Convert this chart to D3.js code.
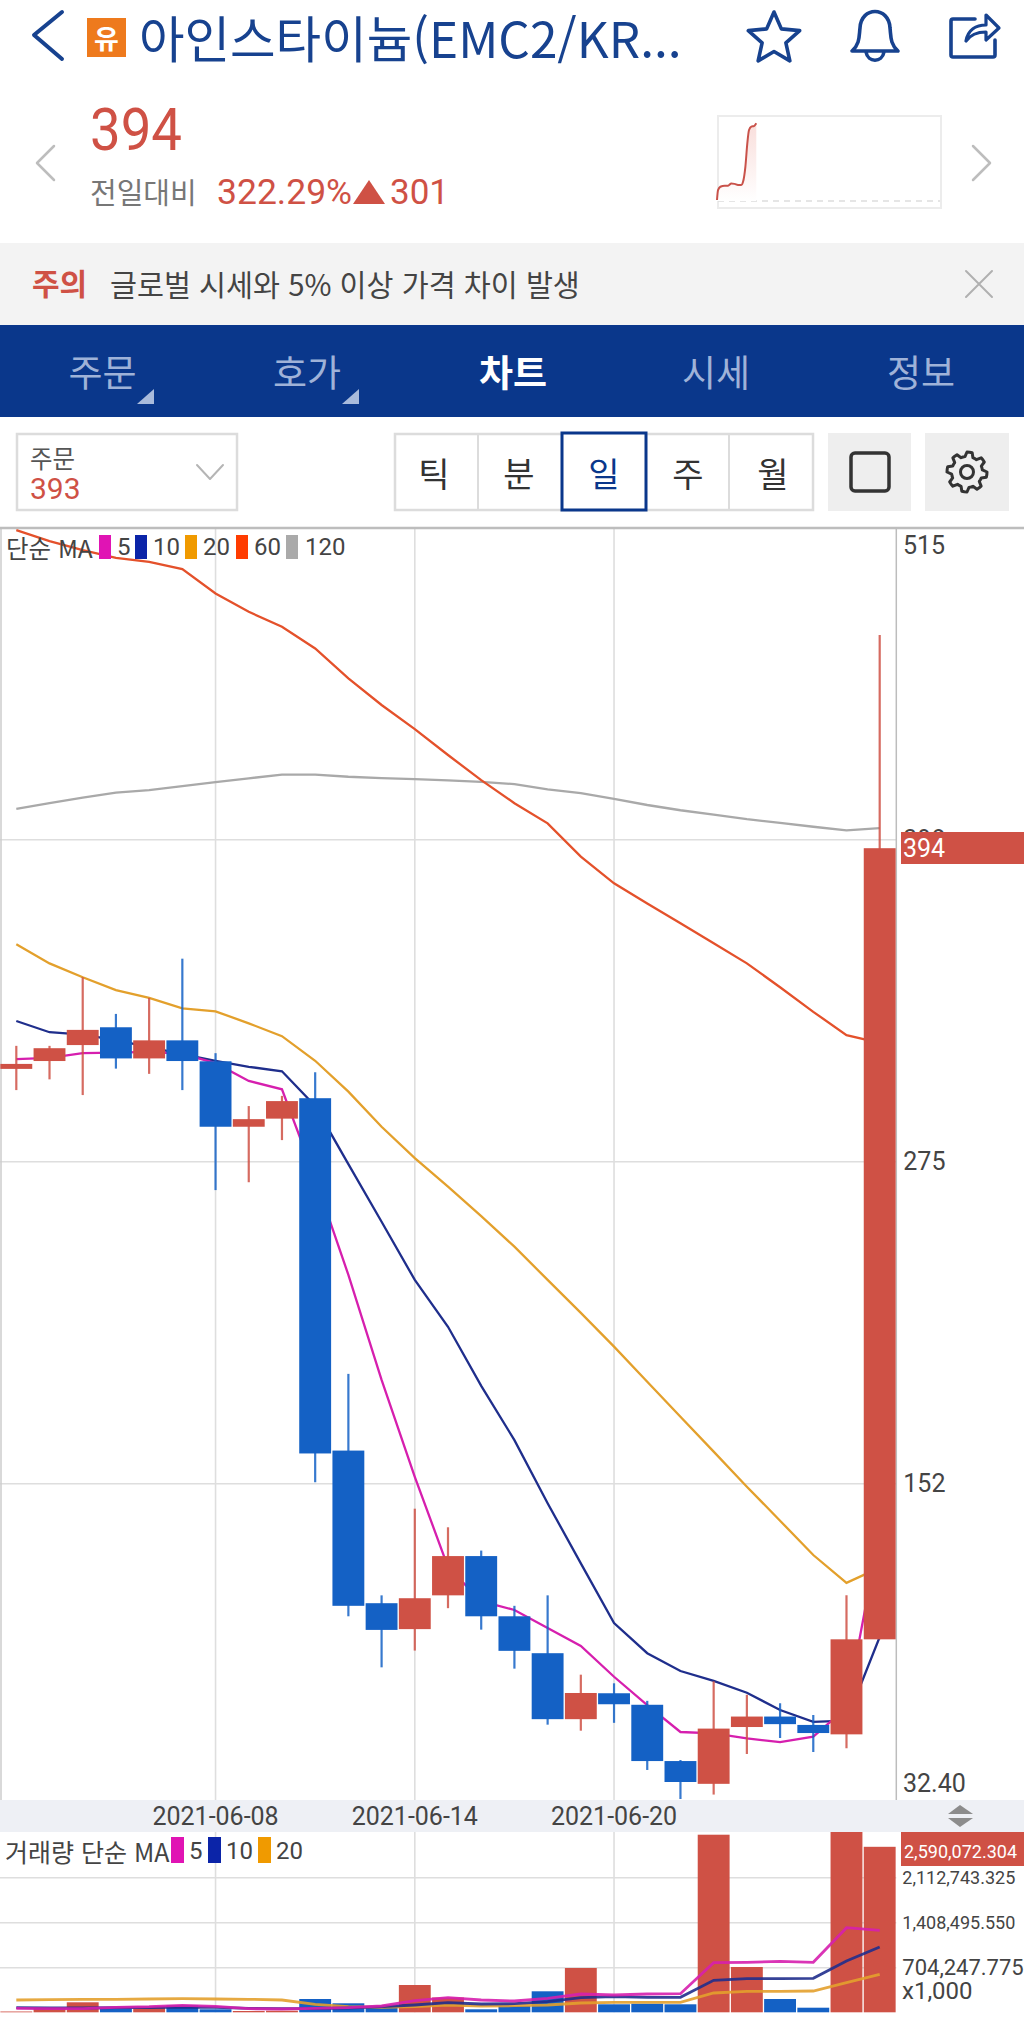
<!DOCTYPE html>
<html lang="ko">
<head>
<meta charset="utf-8">
<script src="https://cdn.jsdelivr.net/npm/d3@7/dist/d3.min.js"></script>
<style>
html,body{margin:0;padding:0;background:#fff;}
svg{display:block;}
text{font-family:Roboto,"Noto Sans CJK KR",sans-serif;}
.kr{font-family:"Noto Sans CJK KR","Noto Sans",sans-serif;}
.grid line{stroke:#dedede;stroke-width:1.6;}
.grid path{display:none;}
</style>
</head>
<body>
<div id="chart"></div>
<script>
// ---------- data ----------
const dates = ["2021-06-02","2021-06-03","2021-06-04","2021-06-05","2021-06-06","2021-06-07","2021-06-08","2021-06-09","2021-06-10","2021-06-11","2021-06-12","2021-06-13","2021-06-14","2021-06-15","2021-06-16","2021-06-17","2021-06-18","2021-06-19","2021-06-20","2021-06-21","2021-06-22","2021-06-23","2021-06-24","2021-06-25","2021-06-26","2021-06-27","2021-06-28"];
const opens  = [310.3,313.3,319.4,326.2,314.3,321.2,313.2,288.2,291.3,299.1,164.5,106.2,96.3,109.2,124.2,101.2,87.1,61.9,71.8,67.4,45.9,37.2,58.9,62.9,59.7,56.1,92.4];
const closes = [312.2,318.2,325.2,314.3,321.2,313.3,288.2,291.1,298.0,163.4,105.2,96.0,108.1,124.2,101.2,88.0,61.9,71.9,67.6,45.9,37.9,58.3,62.9,60.0,56.6,92.4,394.6];
const highs  = [319.1,319.1,345.3,331.3,337.4,352.4,316.3,296.1,300.0,309.0,193.8,109.2,142.3,135.2,126.3,105.2,109.2,78.9,75.6,68.9,46.3,76.4,71.2,68.0,63.5,109.2,476.0];
const lows   = [302.2,306.3,300.3,310.4,308.4,302.2,264.0,267.0,283.1,152.4,101.2,81.7,88.1,104.3,96.1,81.2,59.8,57.5,60.5,42.5,31.4,33.1,48.6,54.7,49.4,50.8,92.4];
const ma5    = [314.0,314.5,316.3,316.5,316.8,316.0,312.5,305.7,302.5,268.6,231.6,191.5,154.5,120.0,107.0,103.6,96.7,89.9,78.1,67.3,57.0,56.5,54.6,53.1,55.2,66.2,133.4];
const ma10   = [328.6,324.3,323.4,321.3,318.6,315.9,313.4,311.1,309.4,296.1,273.9,251.9,229.7,211.8,189.2,168.5,144.4,121.4,98.6,87.1,80.3,76.5,72.0,65.4,60.9,61.3,93.3];
const ma20   = [357.9,350.6,345.3,340.4,337.4,333.4,332.3,327.7,322.8,313.4,301.6,288.2,276.2,265.3,254.1,242.4,229.7,217.1,204.2,190.8,177.4,164.1,150.7,137.7,124.6,114.0,119.8];
const ma60   = [516.1,511.9,508.5,505.5,504.0,501.2,491.9,484.9,479.2,470.9,459.5,449.3,440.1,430.2,420.6,411.8,404.1,391.4,381.2,373.5,365.9,358.3,350.6,341.5,332.1,323.2,320.2];
const ma120  = [409.6,411.8,413.9,415.8,416.8,418.3,419.8,421.3,422.7,422.7,421.9,421.4,421.0,420.5,419.9,419.1,417.1,415.6,413.4,411.1,409.1,407.4,405.7,404.3,402.8,401.4,402.3];
const volumes = [12500,67300,156500,62600,78250,109550,47000,20300,25000,208100,140850,87600,427200,231600,47000,98600,328650,693300,125200,134600,125200,2779400,708900,208100,72000,2861000,2590072];
const volMa5  = [62600,56300,56300,78250,87600,109550,93900,56300,51600,62600,72000,98600,181500,228500,192500,176800,219100,286400,270700,286400,291100,776200,782500,798100,782500,1324000,1283300];
const volMa10 = [72000,67300,67300,72000,72000,83000,78250,62600,56300,56300,67300,87600,114200,150200,129900,134600,165900,228500,244100,234800,234800,500800,525800,525800,532100,802800,1021900];
const volMa20 = [192500,197200,203500,203500,208100,212800,208100,203500,192500,125200,87600,78250,87600,114200,98600,103300,114200,145500,156500,156500,156500,302000,328650,328650,333300,463200,594700];
const priceTicks = [398,275,152];
const priceEdgeLabels = ["515","32.40"];
const dateTicks = ["2021-06-08","2021-06-14","2021-06-20"];
const volTicks = [704247.775,1408495.55,2112743.325];
const volTickLabels = ["704,247.775","1,408,495.550","2,112,743.325"];
const sparkHours = [0,.11,.36,.82,1.18,1.54,1.89,2.25,2.6,2.79,3.04,3.25,3.43,3.68,3.96,4.21];
const sparkPrices = [97,135,148,152,152,161,159,155,155,167,225,316,367,380,382,393];
const navLabels = ["주문","호가","차트","시세","정보"];
const periodLabels = ["틱","분","일","주","월"];
const maLegend = [["5","#e014b4"],["10","#0b24a8"],["20","#f09a00"],["60","#ff3c00"],["120","#aaaaaa"]];

// ---------- colours ----------
const RED="#cf5145", BLUE="#1461c5", NAVY="#17428f", BAR="#0a378b", TXT="#444";
const C5="#d61fae", C10="#1f2e8c", C20="#e3a02c", C60="#e4512b", C120="#a9a9a9";

const svg = d3.select("#chart").append("svg").attr("width",1024).attr("height",2017).attr("viewBox","0 0 1024 2017");
const T=(x,y,s,size,fill,opt={})=>svg.append("text").attr("x",x).attr("y",y).text(s)
  .attr("font-size",size).attr("fill",fill).attr("dominant-baseline","central")
  .attr("text-anchor",opt.anchor||"start").attr("font-weight",opt.weight||400)
  .attr("class",opt.kr?"kr":null);
const R=(x,y,w,h,fill,stroke,sw)=>svg.append("rect").attr("x",x).attr("y",y).attr("width",w).attr("height",h)
  .attr("fill",fill||"none").attr("stroke",stroke||"none").attr("stroke-width",sw||0);
const P=(d,fill,stroke,sw)=>svg.append("path").attr("d",d).attr("fill",fill||"none").attr("stroke",stroke||"none")
  .attr("stroke-width",sw||0).attr("stroke-linejoin","round").attr("stroke-linecap","round");

// ---------- header ----------
P("M62,12 L34,35 L62,59",null,NAVY,4);
R(87,18,39,39,"#ee7a1d");
T(106.5,37,"유",27,"#fff",{anchor:"middle",kr:true,weight:700});
T(139,36,"아인스타이늄(EMC2/KR...",49.5,NAVY,{kr:true});
const star=d3.lineRadial().curve(d3.curveLinearClosed)(d3.range(10).map(i=>[i*Math.PI/5,i%2?12.5:27]));
P(star,null,NAVY,3.6).attr("transform","translate(774,39)");
P("M852,51 C860,44 859,36 860,28 C861,6 889,6 890,28 C891,36 890,44 898,51 Z M866,52 C868,63 882,63 884,52",null,NAVY,3.6);
P("M975,19 L953,19 Q951,19 951,21 L951,55 Q951,57 953,57 L993,57 Q995,57 995,55 L995,40",null,NAVY,3.6);
P("M966,41 C968,30 976,25 986,25 L986,15 L999,28 L986,40 L986,32 C978,32 971,34 966,41 Z",null,NAVY,3.2);

// ---------- price summary ----------
T(90,129,"394",60,RED).attr("textLength",92).attr("lengthAdjust","spacingAndGlyphs");
P("M54,146 L37,163 L54,180",null,"#bdbdbd",2.5);
P("M973,146 L990,163 L973,180",null,"#bdbdbd",2.5);
T(90,191,"전일대비",29,"#777",{kr:true});
T(217,192,"322.29%",35.5,RED);
P("M369,180 L385,204 L353,204 Z",RED);
T(390,192,"301",35,RED);

// sparkline
R(718,116,223,92,"#fff","#ececec",2);
const sx=d3.scaleLinear().domain([0,24]).range([717,941]);
const sy=d3.scaleLinear().domain([93,394]).range([201,123]);
svg.append("line").attr("x1",718).attr("x2",940).attr("y1",201).attr("y2",201).attr("stroke","#ddd").attr("stroke-width",1.5).attr("stroke-dasharray","6 5");
const grad=svg.append("defs").append("linearGradient").attr("id","sg").attr("x1",0).attr("x2",0).attr("y1",0).attr("y2",1);
grad.append("stop").attr("offset",0).attr("stop-color","#f9dedb");
grad.append("stop").attr("offset",1).attr("stop-color","#fff");
const sparkPts=sparkHours.map((h,i)=>[h,sparkPrices[i]]);
svg.append("path").attr("fill","url(#sg)").attr("d",d3.area().x(d=>sx(d[0])).y0(sy(93)).y1(d=>sy(d[1]))(sparkPts));
svg.append("path").attr("fill","none").attr("stroke","#c9524a").attr("stroke-width",2).attr("d",d3.line().x(d=>sx(d[0])).y(d=>sy(d[1])).curve(d3.curveMonotoneX)(sparkPts));

// ---------- warning ----------
R(0,243,1024,82,"#f3f3f3");
T(32,282,"주의",30,RED,{kr:true,weight:700});
T(110,283,"글로벌 시세와 5% 이상 가격 차이 발생",29.3,"#444",{kr:true});
P("M966,271 L992,297 M992,271 L966,297",null,"#b0b0b0",2);

// ---------- nav ----------
R(0,325,1024,92,BAR);
const navX=[102.5,307,513,716,921];
navLabels.forEach((s,i)=>T(navX[i],371,s,37,i===2?"#fff":"#9fb2d8",{anchor:"middle",kr:true,weight:i===2?700:400}));
P("M154,389 L154,404 L137,404 Z","#a9bbdc");
P("M359,389 L359,404 L342,404 Z","#a9bbdc");

// ---------- toolbar ----------
R(17,434,220,76,"#fff","#dcdcdc",2.5);
T(30,457,"주문",24.5,"#555",{kr:true});
T(30,488,"393",30,RED);
P("M197,465 L210,479 L223,465",null,"#b5b5b5",2);
R(395,434,418,76,"#fff","#dcdcdc",2.5);
[478,729].forEach(x=>P(`M${x},434 L${x},510`,null,"#dcdcdc",2));
R(562,433,84,77,"#fff",BAR,3);
const perX=[434,519,604,688,773];
periodLabels.forEach((s,i)=>T(perX[i],472,s,34,i===2?BAR:"#333",{anchor:"middle",kr:true}));
R(828,433,83,78,"#eeeeee");
svg.append("rect").attr("x",851).attr("y",453).attr("width",38).attr("height",38).attr("rx",4).attr("fill","none").attr("stroke","#333").attr("stroke-width",3.5);
R(925,433,84,78,"#eeeeee");
const gear=d3.lineRadial().curve(d3.curveLinearClosed)(d3.range(48).map(i=>[i*Math.PI/24,(i%6<3)?20:15.5]));
P(gear,null,"#333",3).attr("transform","translate(967,472)");
svg.append("circle").attr("cx",967).attr("cy",472).attr("r",6.5).attr("fill","none").attr("stroke","#333").attr("stroke-width",3);

// ---------- scales ----------
const PLOT_R=896.3, P_TOP=528, P_BOT=1800, V_TOP=1832, V_BOT=2012.3;
const x=d3.scaleBand().domain(dates).range([-0.3,PLOT_R]).paddingInner(.04).paddingOuter(.02);
const cx=d=>x(d)+x.bandwidth()/2;
const y=d3.scaleLinear().domain([152,275]).range([1483.3,1161.3]);
const v=d3.scaleLinear().domain([0,704247.775]).range([V_BOT,V_BOT-45]);

const defs=svg.append("defs");
defs.append("clipPath").attr("id","cp").append("rect").attr("x",0).attr("y",P_TOP).attr("width",PLOT_R).attr("height",P_BOT-P_TOP);
defs.append("clipPath").attr("id","cv").append("rect").attr("x",0).attr("y",V_TOP).attr("width",PLOT_R).attr("height",V_BOT-V_TOP+1);

// ---------- vertical grids ----------
svg.append("g").attr("class","grid").attr("transform",`translate(0,${P_BOT})`)
  .call(d3.axisBottom(x).tickValues(dateTicks).tickSize(-(P_BOT-P_TOP)).tickFormat(""));
svg.append("g").attr("class","grid").attr("transform",`translate(0,${V_BOT})`)
  .call(d3.axisBottom(x).tickValues(dateTicks).tickSize(-(V_BOT-V_TOP)).tickFormat(""));

// ---------- price grid + axis ----------
const gy=svg.append("g").attr("class","grid").attr("transform",`translate(${PLOT_R},0)`)
  .call(d3.axisRight(y).tickValues(priceTicks).tickSize(0).tickPadding(7));
gy.selectAll("text").attr("font-size",25).attr("fill",TXT).attr("font-family","Roboto");
gy.selectAll(".tick").append("line").attr("x1",-PLOT_R).attr("x2",0);
T(903,545,priceEdgeLabels[0],25,TXT);
T(903,1783,priceEdgeLabels[1],25,TXT);

// frame
P(`M1,${P_TOP} L1,${P_BOT}`,null,"#cccccc",1.5);
P(`M${PLOT_R},${P_TOP} L${PLOT_R},${P_BOT}`,null,"#bdbdbd",1.5);
svg.append("line").attr("x1",0).attr("x2",1024).attr("y1",P_TOP).attr("y2",P_TOP).attr("stroke","#bdbdbd").attr("stroke-width",2.5);

// ---------- MA lines ----------
const lineP=d3.line().x((d,i)=>cx(dates[i])).y(d=>y(d));
const pG=svg.append("g").attr("clip-path","url(#cp)");
[[ma120,C120],[ma60,C60],[ma20,C20],[ma10,C10],[ma5,C5]].forEach(([a,c])=>
  pG.append("path").datum(a).attr("d",lineP).attr("fill","none").attr("stroke",c).attr("stroke-width",2.3));

// ---------- candles ----------
const col=i=>closes[i]>=opens[i]?RED:BLUE;
pG.selectAll("line.w").data(dates).join("line").attr("class","w")
  .attr("x1",cx).attr("x2",cx).attr("y1",(d,i)=>y(highs[i])).attr("y2",(d,i)=>y(lows[i]))
  .attr("stroke",(d,i)=>col(i)).attr("stroke-opacity",.85).attr("stroke-width",2.2);
pG.selectAll("rect.b").data(dates).join("rect").attr("class","b")
  .attr("x",d=>x(d)).attr("width",x.bandwidth())
  .attr("y",(d,i)=>y(Math.max(opens[i],closes[i])))
  .attr("height",(d,i)=>Math.abs(y(opens[i])-y(closes[i])))
  .attr("fill",(d,i)=>col(i));

// legend price
T(6,547,"단순 MA",24.5,TXT,{kr:true});
const legX=[[99,117],[135,153],[185,203],[236,254],[286,305]];
maLegend.forEach(([s,c],i)=>{R(legX[i][0],535,12,24,c);T(legX[i][1],547,s,24,TXT);});

// price tag
R(901,832,123,32,RED);
T(903,848,"394",25,"#fff");

// ---------- date strip ----------
R(0,P_BOT,1024,V_TOP-P_BOT,"#eef0f5");
const gx=svg.append("g").attr("transform",`translate(0,${P_BOT})`)
  .call(d3.axisBottom(x).tickValues(dateTicks).tickSize(0).tickPadding(0));
gx.select("path").remove();
gx.selectAll("text").attr("font-size",25).attr("fill",TXT).attr("font-family","Roboto").attr("y",16).attr("dy",0).attr("dominant-baseline","central");
P("M960,1805 L973,1814 L948,1814 Z","#8c8c8c");
P("M948,1818 L973,1818 L960,1827 Z","#8c8c8c");

// ---------- volume ----------
const gv=svg.append("g").attr("class","grid").attr("transform",`translate(${PLOT_R},0)`)
  .call(d3.axisRight(v).tickValues(volTicks).tickSize(0).tickPadding(6).tickFormat((d,i)=>volTickLabels[i]));
gv.selectAll(".tick").append("line").attr("x1",-PLOT_R).attr("x2",0);
gv.selectAll("text").attr("fill",TXT).attr("font-family","Roboto").attr("font-size",(d,i)=>i===0?22:18);
T(902,1991,"x1,000",24,TXT);
const vG=svg.append("g").attr("clip-path","url(#cv)");
vG.selectAll("rect").data(dates).join("rect")
  .attr("x",d=>x(d)).attr("width",x.bandwidth())
  .attr("y",(d,i)=>v(volumes[i])).attr("height",(d,i)=>V_BOT-v(volumes[i]))
  .attr("fill",(d,i)=>col(i));
const lineV=d3.line().x((d,i)=>cx(dates[i])).y(d=>v(d));
[[volMa20,C20],[volMa10,C10],[volMa5,C5]].forEach(([a,c])=>
  vG.append("path").datum(a).attr("d",lineV).attr("fill","none").attr("stroke",c).attr("stroke-width",2.8).attr("stroke-opacity",.9));

T(5,1851,"거래량 단순 MA",25,TXT,{kr:true});
const volLegX=[[171,189],[208,226],[258,276]];
maLegend.slice(0,3).forEach(([s,c],i)=>{R(volLegX[i][0],1837,13,26,c);T(volLegX[i][1],1851,s,24,TXT);});

R(901,1832,123,34,RED);
T(904,1851,"2,590,072.304",18,"#fff");
</script>
</body>
</html>
